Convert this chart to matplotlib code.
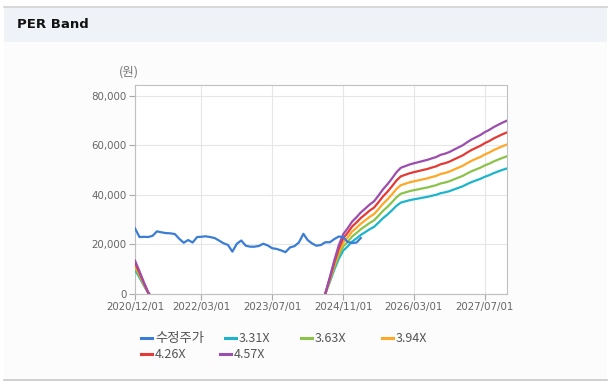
import numpy as np
import pandas as pd
import matplotlib
matplotlib.use("Agg")
import matplotlib.pyplot as plt
from matplotlib.lines import Line2D
from matplotlib.patches import Rectangle

plt.rcParams['font.family'] = ['Noto Sans CJK KR', 'DejaVu Sans']

# ---------------- data ----------------
price_start = "2020-12-01"
price = [26500, 23000, 23100, 23000, 23500, 25300, 24900, 24600, 24500, 24200,
         22300, 20700, 21800, 20800, 23000, 23100, 23300, 23000, 22600, 21600,
         20500, 19800, 17100, 20300, 21600, 19500, 19100, 19100, 19400, 20300,
         19600, 18500, 18200, 17600, 16900, 18800, 19300, 20800, 24300, 21800,
         20400, 19500, 19800, 20900, 20900, 22200, 23200, 23000, 21000, 20600,
         20800, 22600]

eps_start = "2020-12-01"
eps = ([2950, 2000, 1000, 150, -500] + [np.nan] * 37 +
       [-1400, 50, 1500, 3000, 4300, 5300, 5800, 6400, 6800, 7200,
        7550, 7900, 8200, 8700, 9250, 9700, 10200, 10750, 11150, 11300,
        11450, 11550, 11650, 11750, 11850, 11980, 12100, 12300, 12400, 12550,
        12750, 12950, 13150, 13400, 13650, 13850, 14050, 14300, 14500, 14750,
        14950, 15150, 15320])

multiples = [3.31, 3.63, 3.94, 4.26, 4.57]
band_labels = ["3.31X", "3.63X", "3.94X", "4.26X", "4.57X"]
price_label = "수정주가"

xticks = ["2020-12-01", "2022-03-01", "2023-07-01", "2024-11-01", "2026-03-01", "2027-07-01"]
yticks = [0, 20000, 40000, 60000, 80000]

colors = ["#1cb5cb", "#8bc34a", "#ffa726", "#e53935", "#9c4dad"]
price_color = "#3a7dd6"

# ---------------- figure ----------------
W, H = 611, 385
fig = plt.figure(figsize=(W / 100, H / 100), dpi=100)
fig.patch.set_facecolor("white")

def fx(px):
    return px / W

def fy(py):
    return 1 - py / H

# panel background
fig.add_artist(Rectangle((fx(4), fy(380)), fx(603), (380 - 42) / H,
                         transform=fig.transFigure, facecolor="#fcfcfc",
                         edgecolor="none", zorder=0))
fig.add_artist(Rectangle((fx(4), fy(42)), fx(603), 35 / H,
                         transform=fig.transFigure, facecolor="#eff2f7",
                         edgecolor="none", zorder=0))
fig.add_artist(Line2D([fx(4), fx(607)], [fy(7), fy(7)], transform=fig.transFigure,
                      color="#d2d2d2", lw=1.2))
fig.add_artist(Line2D([fx(4), fx(607)], [fy(380), fy(380)], transform=fig.transFigure,
                      color="#c8c8c8", lw=1.2))
fig.text(fx(17), fy(25), "PER Band", fontsize=9.5, fontweight="bold",
         color="#111111", va="center", ha="left", family=["DejaVu Sans"])

ax = fig.add_axes([fx(135), fy(294), fx(372), 209 / H])
ax.set_facecolor("white")

price_dates = pd.date_range(price_start, periods=len(price), freq="MS")
eps_dates = pd.date_range(eps_start, periods=len(eps), freq="MS")
eps_arr = np.array(eps, dtype=float)

for m, c in zip(multiples, colors):
    ax.plot(eps_dates, eps_arr * m, color=c, lw=1.6, zorder=3)
ax.plot(price_dates, price, color=price_color, lw=1.6, zorder=4)

ax.set_xlim(pd.Timestamp("2020-12-01"), pd.Timestamp("2027-12-01"))
ax.set_ylim(0, 84400)
ax.set_yticks(yticks)
ax.set_yticklabels([f"{v:,}" for v in yticks])
xt = pd.to_datetime(xticks)
ax.set_xticks(xt)
ax.set_xticklabels([d.strftime("%Y/%m/%d") for d in xt])
for lbl in ax.get_xticklabels() + ax.get_yticklabels():
    lbl.set_family(["DejaVu Sans"])

ax.grid(True, color="#e6e6e6", lw=0.8, zorder=0)
ax.set_axisbelow(True)
for s in ax.spines.values():
    s.set_color("#c0c0c0")
    s.set_linewidth(0.8)
ax.tick_params(axis="both", colors="#aaaaaa", labelcolor="#666666",
               labelsize=7.4, length=4, width=0.8, pad=2)

fig.text(fx(129), fy(72), "(원)", fontsize=9, color="#777777", ha="center", va="center")

# legend (manual)
items = [(price_label, price_color, 141, 338, 9.6),
         (band_labels[0], colors[0], 225, 338, 9),
         (band_labels[1], colors[1], 301, 338, 9),
         (band_labels[2], colors[2], 382, 338, 9),
         (band_labels[3], colors[3], 141, 354, 9),
         (band_labels[4], colors[4], 220, 354, 9)]
for lab, c, x0, y0, fs in items:
    fig.add_artist(Line2D([fx(x0), fx(x0 + 11)], [fy(y0), fy(y0)],
                          transform=fig.transFigure, color=c, lw=2.2))
    fig.text(fx(x0 + 14), fy(y0), lab, fontsize=fs, color="#555555",
             ha="left", va="center")

fig.savefig("out.png", dpi=100, facecolor=fig.get_facecolor())
